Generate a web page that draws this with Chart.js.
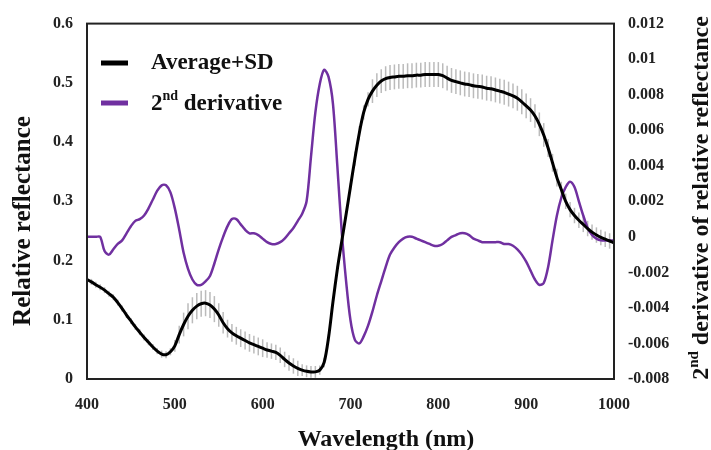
<!DOCTYPE html>
<html>
<head>
<meta charset="utf-8">
<script src="https://cdn.jsdelivr.net/npm/chart.js@4.4.1/dist/chart.umd.min.js"></script>
<style>
  html, body { margin: 0; padding: 0; background: #fff; }
  #wrap { width: 711px; height: 450px; position: relative; }
</style>
</head>
<body>
<div id="wrap"><canvas id="myChart" width="711" height="450"></canvas></div>
<script>
// wavelength (nm), 5 nm step
const wavelengths = [
  400,405,410,415,420,425,430,435,440,445,450,455,460,465,470,475,480,485,490,495,
  500,505,510,515,520,525,530,535,540,545,550,555,560,565,570,575,580,585,590,595,
  600,605,610,615,620,625,630,635,640,645,650,655,660,665,670,675,680,685,690,695,
  700,705,710,715,720,725,730,735,740,745,750,755,760,765,770,775,780,785,790,795,
  800,805,810,815,820,825,830,835,840,845,850,855,860,865,870,875,880,885,890,895,
  900,905,910,915,920,925,930,935,940,945,950,955,960,965,970,975,980,985,990,995,
  1000
];

// average relative reflectance
const average = [
  0.168,0.164,0.159,0.155,0.150,0.144,0.138,0.129,0.119,0.108,0.098,0.088,0.079,0.070,0.062,0.054,0.047,0.042,0.041,0.046,
  0.056,0.075,0.092,0.106,0.116,0.123,0.127,0.128,0.125,0.118,0.108,0.095,0.085,0.078,0.073,0.069,0.065,0.061,0.058,0.055,
  0.052,0.049,0.047,0.045,0.040,0.033,0.027,0.022,0.018,0.015,0.013,0.012,0.012,0.015,0.028,0.070,0.130,0.185,0.232,0.278,
  0.325,0.372,0.415,0.450,0.472,0.486,0.496,0.503,0.507,0.509,0.510,0.511,0.511,0.512,0.512,0.513,0.513,0.514,0.514,0.514,
  0.514,0.512,0.508,0.504,0.502,0.500,0.498,0.497,0.495,0.494,0.493,0.491,0.490,0.488,0.486,0.484,0.481,0.478,0.474,0.468,
  0.461,0.454,0.444,0.430,0.412,0.390,0.365,0.340,0.320,0.300,0.286,0.276,0.268,0.261,0.254,0.248,0.243,0.239,0.236,0.233,
  0.230
];

// standard deviation
const sd = [
  0.005,0.005,0.005,0.005,0.005,0.005,0.005,0.005,0.005,0.005,0.005,0.005,0.005,0.005,0.005,0.005,0.005,0.006,0.006,0.006,
  0.010,0.015,0.020,0.022,0.022,0.022,0.022,0.022,0.022,0.022,0.020,0.018,0.015,0.015,0.015,0.015,0.015,0.015,0.015,0.015,
  0.015,0.013,0.013,0.013,0.013,0.013,0.013,0.013,0.013,0.010,0.010,0.010,0.010,0.008,0.008,0.006,0.006,0.006,0.006,0.006,
  0.006,0.012,0.012,0.012,0.012,0.020,0.020,0.020,0.021,0.021,0.021,0.021,0.021,0.021,0.021,0.021,0.021,0.021,0.021,0.021,
  0.021,0.021,0.021,0.021,0.021,0.021,0.021,0.021,0.021,0.021,0.021,0.021,0.021,0.021,0.021,0.021,0.021,0.021,0.021,0.021,
  0.021,0.020,0.020,0.020,0.020,0.015,0.015,0.015,0.013,0.013,0.013,0.013,0.013,0.013,0.013,0.013,0.013,0.013,0.013,0.013,
  0.013
];

// 2nd derivative of relative reflectance
const derivative = [
  0,0,0,0,-0.0008,-0.0010,-0.0007,-0.0004,-0.0002,0.0002,0.0006,0.0009,0.0010,0.0012,0.0016,0.0021,0.0026,0.0029,0.0029,0.0025,
  0.0016,0.0004,-0.0009,-0.0018,-0.0024,-0.0027,-0.0027,-0.0025,-0.0022,-0.0015,-0.0007,0.0000,0.0006,0.0010,0.0010,0.0007,0.0004,0.0002,0.0002,0.0001,
  -0.0001,-0.0003,-0.0004,-0.0004,-0.0003,-0.0001,0.0002,0.0005,0.0009,0.0013,0.0020,0.0045,0.0070,0.0086,0.0094,0.0090,0.0075,0.0040,0.0003,-0.0025,
  -0.0047,-0.0058,-0.0060,-0.0056,-0.0050,-0.0042,-0.0033,-0.0025,-0.0017,-0.0010,-0.0006,-0.0003,-0.0001,0.0000,0.0000,-0.0001,-0.0002,-0.0003,-0.0004,-0.0005,
  -0.0005,-0.0004,-0.0002,0.0000,0.0001,0.0002,0.0002,0.0001,-0.0001,-0.0002,-0.0003,-0.0003,-0.0003,-0.0003,-0.0003,-0.0004,-0.0004,-0.0005,-0.0007,-0.0010,
  -0.0014,-0.0019,-0.0024,-0.0027,-0.0026,-0.0017,-0.0002,0.0012,0.0022,0.0028,0.0031,0.0028,0.0020,0.0012,0.0005,0.0001,-0.0001,-0.0002,-0.0002,-0.0002,
  -0.0002
];

const purple = '#7030A0';
const serif = '"Liberation Serif", "Times New Roman", serif';

function fmt(v) {
  return parseFloat(v.toFixed(4)).toString();
}

// draws "2nd ..." with the superscript, starting at x (left aligned, middle baseline)
function drawSup(ctx, x, y, before, sup, after, size) {
  ctx.font = 'bold ' + size + 'px ' + serif;
  ctx.fillText(before, x, y);
  x += ctx.measureText(before).width;
  ctx.font = 'bold ' + Math.round(size * 0.62) + 'px ' + serif;
  ctx.fillText(sup, x, y - size * 0.33);
  x += ctx.measureText(sup).width;
  ctx.font = 'bold ' + size + 'px ' + serif;
  ctx.fillText(after, x, y);
}
function supWidth(ctx, before, sup, after, size) {
  ctx.font = 'bold ' + size + 'px ' + serif;
  let w = ctx.measureText(before).width + ctx.measureText(after).width;
  ctx.font = 'bold ' + Math.round(size * 0.62) + 'px ' + serif;
  return w + ctx.measureText(sup).width;
}

const errorBars = {
  id: 'errorBars',
  beforeDatasetsDraw(chart) {
    const ctx = chart.ctx;
    const xs = chart.scales.x, ys = chart.scales.y;
    ctx.save();
    ctx.strokeStyle = 'rgba(120,120,120,0.5)';
    ctx.lineWidth = 1.5;
    for (let i = 0; i < wavelengths.length; i++) {
      const px = xs.getPixelForValue(wavelengths[i]);
      ctx.beginPath();
      ctx.moveTo(px, ys.getPixelForValue(average[i] - sd[i]));
      ctx.lineTo(px, ys.getPixelForValue(average[i] + sd[i]));
      ctx.stroke();
    }
    ctx.restore();
  }
};

const decorations = {
  id: 'decorations',
  afterDraw(chart) {
    const ctx = chart.ctx;
    const a = chart.chartArea;
    ctx.save();
    // frame
    ctx.strokeStyle = '#222';
    ctx.lineWidth = 2;
    ctx.strokeRect(a.left, a.top, a.right - a.left, a.bottom - a.top);

    ctx.fillStyle = '#111';
    ctx.textBaseline = 'middle';

    // legend
    ctx.lineWidth = 5;
    ctx.strokeStyle = '#000';
    ctx.beginPath(); ctx.moveTo(101, 63); ctx.lineTo(128, 63); ctx.stroke();
    ctx.strokeStyle = purple;
    ctx.beginPath(); ctx.moveTo(101, 103); ctx.lineTo(128, 103); ctx.stroke();
    ctx.textAlign = 'left';
    ctx.font = 'bold 23px ' + serif;
    ctx.fillText('Average+SD', 151, 63);
    drawSup(ctx, 151, 104, '2', 'nd', ' derivative', 23);

    // x title
    ctx.textAlign = 'center';
    ctx.font = 'bold 24px ' + serif;
    ctx.fillText('Wavelength (nm)', 386, 440);

    // left title
    ctx.save();
    ctx.translate(24, 221);
    ctx.rotate(-Math.PI / 2);
    ctx.font = 'bold 25px ' + serif;
    ctx.fillText('Relative reflectance', 0, 0);
    ctx.restore();

    // right title
    ctx.save();
    ctx.translate(702, 198);
    ctx.rotate(-Math.PI / 2);
    ctx.textAlign = 'left';
    const w = supWidth(ctx, '2', 'nd', ' derivative of relative reflectance', 24);
    drawSup(ctx, -w / 2, 0, '2', 'nd', ' derivative of relative reflectance', 24);
    ctx.restore();

    ctx.restore();
  }
};

const canvas = document.getElementById('myChart');
const tickFont = { family: serif, size: 16, weight: 'bold' };

const chartdata = {
  datasets: [
    {
      label: 'Average+SD',
      data: wavelengths.map((w, i) => ({ x: w, y: average[i] })),
      borderColor: '#000',
      borderWidth: 3,
      pointRadius: 0,
      tension: 0.3,
      yAxisID: 'y'
    },
    {
      label: '2nd derivative',
      data: wavelengths.map((w, i) => ({ x: w, y: derivative[i] })),
      borderColor: purple,
      borderWidth: 2.5,
      pointRadius: 0,
      tension: 0.3,
      yAxisID: 'y2'
    }
  ]
};

const config = {
  type: 'line',
  data: chartdata,
  options: {
    responsive: false,
    animation: false,
    layout: { padding: { top: 21, left: 0, right: 0, bottom: 0 } },
    plugins: { legend: { display: false }, tooltip: { enabled: false } },
    scales: {
      x: {
        type: 'linear',
        min: 400,
        max: 1000,
        grid: { display: false, drawTicks: false },
        border: { display: false },
        ticks: { stepSize: 100, color: '#222', font: tickFont, padding: 16, maxRotation: 0, callback: v => String(v) },
        afterFit(scale) { scale.height = 71; }
      },
      y: {
        position: 'left',
        min: 0,
        max: 0.6,
        grid: { display: false, drawTicks: false },
        border: { display: false },
        ticks: { stepSize: 0.1, color: '#222', font: tickFont, padding: 14, callback: fmt },
        afterFit(scale) { scale.width = 87; }
      },
      y2: {
        position: 'right',
        min: -0.008,
        max: 0.012,
        grid: { display: false, drawOnChartArea: false, drawTicks: true, tickLength: 5, tickColor: '#888' },
        border: { display: false },
        ticks: { stepSize: 0.002, color: '#222', font: tickFont, padding: 9, callback: fmt },
        afterFit(scale) { scale.width = 97; }
      }
    }
  },
  plugins: [errorBars, decorations]
};

new Chart(canvas, config);
</script>
</body>
</html>
